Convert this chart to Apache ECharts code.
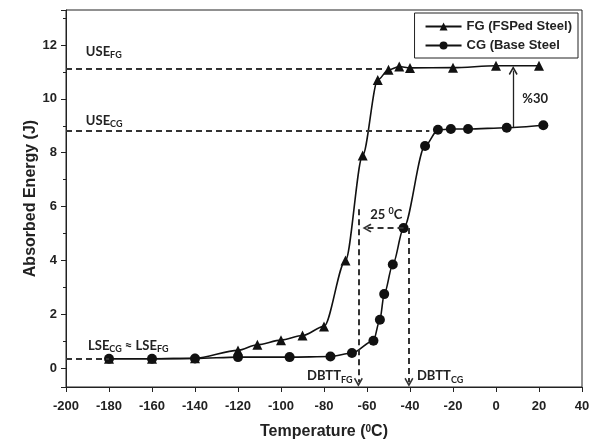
<!DOCTYPE html>
<html style="height: 100%">
<head>
  <meta charset="UTF-8">
  <title>absorbed energy</title>
  <script src="https://cdn.jsdelivr.net/npm/echarts@6/dist/echarts.min.js"></script>
</head>
<body style="height: 100%; margin: 0; background: #fff">
<div id="container" style="width: 602px; height: 445px"></div>
<script type="text/javascript">
  // FG (FSPed steel) - triangles
  var fgTemp = [-180, -160, -140, -120, -111, -100, -90, -80, -70, -62, -55, -50, -45, -40, -20, 0, 20];
  var fgEnergy = [0.35, 0.35, 0.37, 0.66, 0.87, 1.04, 1.21, 1.55, 4.0, 7.9, 10.7, 11.08, 11.2, 11.15, 11.16, 11.23, 11.23];
  // CG (base steel) - circles
  var cgTemp = [-180, -160, -140, -120, -96, -77, -67, -57, -54, -52, -48, -43, -33, -27, -21, -13, 5, 22];
  var cgEnergy = [0.35, 0.35, 0.36, 0.41, 0.41, 0.43, 0.56, 1.02, 1.8, 2.75, 3.85, 5.2, 8.25, 8.85, 8.88, 8.88, 8.93, 9.02];

  var useFG = 11.12, useCG = 8.8, lse = 0.35;
  var dbttFG = -64, dbttCG = -40.5;

  function pairs(xs, ys) {
    return xs.map(function (x, i) { return [x, ys[i]]; });
  }

  var axisFont = 'Liberation Sans, Arial, sans-serif';
  var noteFont = 'Lato, Open Sans, sans-serif';
  var arrow = 'path://M5,0 L10,8 L8.6,9 L5,3.2 L1.4,9 L0,8 Z';
  var subRich = {
    s: { fontSize: 9, lineHeight: 9, verticalAlign: 'bottom', fontWeight: 'bold', fontFamily: noteFont, color: '#222' },
    u: { fontSize: 9, lineHeight: 9, verticalAlign: 'top', fontWeight: 'bold', fontFamily: noteFont, color: '#222' }
  };

  function note(x, y, text, pos) {
    return {
      coord: [x, y],
      label: { show: true, formatter: text, position: pos || 'right', distance: 0 }
    };
  }

  var dom = document.getElementById('container');
  var myChart = echarts.init(dom, null, { renderer: 'canvas' });

  var option = {
    animation: false,
    backgroundColor: '#fff',
    grid: {
      left: 66, right: 20, top: 10, bottom: 58,
      show: true, borderColor: '#222', borderWidth: 1
    },
    legend: {
      data: ['FG (FSPed Steel)', 'CG (Base Steel'],
      orient: 'vertical',
      right: 24, top: 13,
      itemWidth: 36, itemHeight: 10, itemGap: 6,
      padding: [7, 6, 6, 10],
      borderColor: '#222', borderWidth: 1,
      textStyle: { fontFamily: axisFont, fontWeight: 'bold', fontSize: 13, color: '#222' }
    },
    xAxis: {
      type: 'value',
      min: -200, max: 40, interval: 20,
      name: 'Temperature ({u|0}C)',
      nameLocation: 'middle', nameGap: 37, nameMoveOverlap: false,
      nameTextStyle: {
        fontFamily: axisFont, fontWeight: 'bold', fontSize: 16, color: '#222',
        rich: { u: { fontSize: 10, lineHeight: 10, verticalAlign: 'top', fontWeight: 'bold', fontFamily: axisFont, color: '#222' } }
      },
      splitLine: { show: false },
      axisLine: { onZero: false, lineStyle: { color: '#222', width: 1 } },
      axisTick: { length: 5, lineStyle: { color: '#222' } },
      axisLabel: { margin: 13, fontFamily: axisFont, fontWeight: 'bold', fontSize: 13, color: '#222' }
    },
    yAxis: {
      type: 'value',
      min: -0.7, max: 13.3, minInterval: 2, maxInterval: 2,
      name: 'Absorbed Energy (J)',
      nameLocation: 'middle', nameGap: 27, nameMoveOverlap: false,
      nameTextStyle: { fontFamily: axisFont, fontWeight: 'bold', fontSize: 16, color: '#222' },
      splitLine: { show: false },
      axisLine: { show: true, onZero: false, lineStyle: { color: '#222', width: 1 } },
      axisTick: { show: true, length: 5, lineStyle: { color: '#222' } },
      minorTick: { show: true, splitNumber: 2, length: 3, lineStyle: { color: '#222' } },
      axisLabel: {
        margin: 9, showMinLabel: false, showMaxLabel: false,
        fontFamily: axisFont, fontWeight: 'bold', fontSize: 13, color: '#222'
      }
    },
    series: [
      {
        name: 'FG (FSPed Steel)',
        type: 'line',
        data: pairs(fgTemp, fgEnergy),
        smooth: 0.3,
        smoothMonotone: 'x',
        symbol: 'triangle',
        symbolSize: 10,
        lineStyle: { color: '#111', width: 1.6 },
        itemStyle: { color: '#111' }
      },
      {
        name: 'CG (Base Steel',
        type: 'line',
        data: pairs(cgTemp, cgEnergy),
        smooth: 0.3,
        smoothMonotone: 'x',
        symbol: 'circle',
        symbolSize: 10,
        lineStyle: { color: '#111', width: 1.6 },
        itemStyle: { color: '#111' }
      },
      {
        name: 'notes',
        type: 'line',
        data: [],
        markLine: {
          silent: true,
          symbol: ['none', 'none'],
          symbolSize: 9,
          label: { show: false },
          lineStyle: { type: [6, 4], color: '#333', width: 2 },
          data: [
            [{ coord: [-200, useFG] }, { coord: [-53, useFG] }],
            [{ coord: [-200, useCG] }, { coord: [-31, useCG] }],
            [{ coord: [-200, lse] }, { coord: [-180, lse] }],
            [{ coord: [dbttFG, 5.9] }, { coord: [dbttFG, -0.52], symbol: arrow }],
            [{ coord: [dbttCG, 5.2] }, { coord: [dbttCG, -0.52], symbol: arrow }],
            [{ coord: [-43, 5.2] }, { coord: [-60, 5.2], symbol: arrow }],
            [{ coord: [8, 8.95], lineStyle: { type: 'solid', width: 1.3, color: '#222' } },
             { coord: [8, 11.05], symbol: arrow }]
          ]
        },
        markPoint: {
          silent: true,
          symbol: 'circle',
          symbolSize: 1,
          itemStyle: { color: 'rgba(0,0,0,0)' },
          label: {
            fontFamily: noteFont, fontWeight: 'bold', fontSize: 13, lineHeight: 16,
            color: '#222', rich: subRich
          },
          data: [
            note(-191, 11.75, 'USE{s|FG}'),
            note(-191, 9.2, 'USE{s|CG}'),
            note(-190, 0.83, 'LSE{s|CG} \u2248 LSE{s|FG}'),
            note(-66.5, -0.3, 'DBTT{s|FG}', 'left'),
            note(-37, -0.3, 'DBTT{s|CG}'),
            note(-51, 5.7, '25 {u|0}C', 'inside'),
            note(12, 10.0, '%30')
          ]
        }
      }
    ]
  };

  myChart.setOption(option);
  window.addEventListener('resize', myChart.resize);
</script>
</body>
</html>
